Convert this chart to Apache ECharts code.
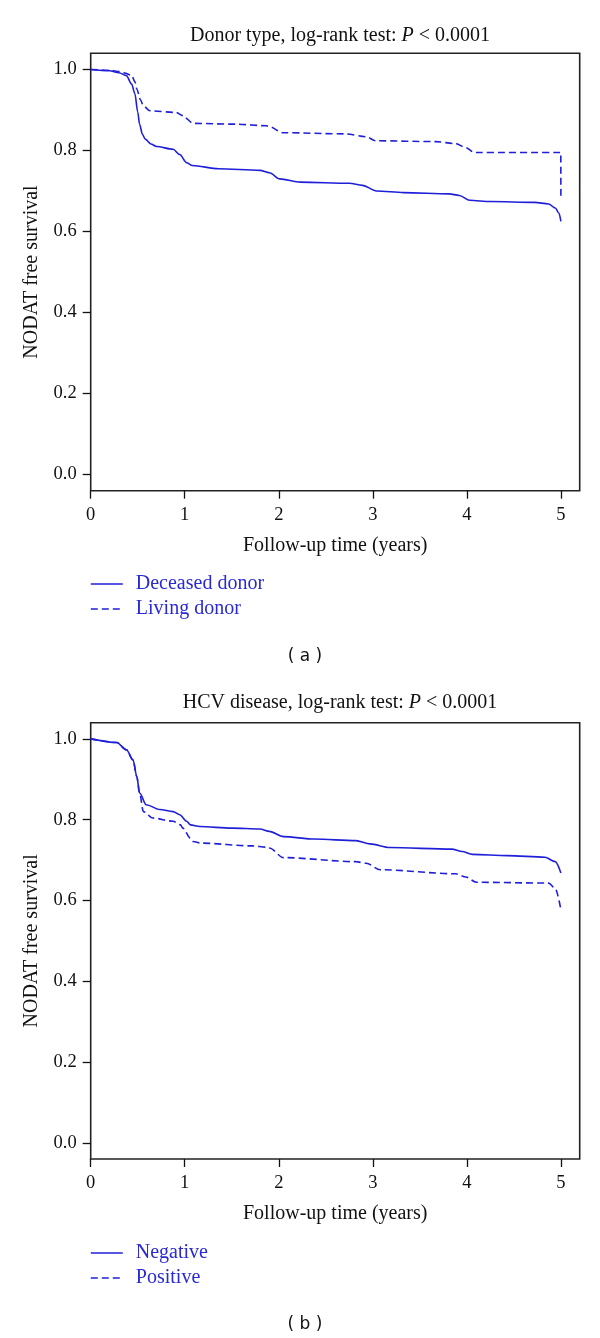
<!DOCTYPE html>
<html>
<head>
<meta charset="utf-8">
<script src="https://cdn.jsdelivr.net/npm/echarts@6/dist/echarts.min.js"></script>
<style>html,body{margin:0;padding:0;background:#fff}#c{width:600px;height:1338px}</style>
</head>
<body>
<div id="c"></div>
<script>
// ---- data (time in years, NODAT free survival) ----
var deceasedDonor = [[0,1.0],[0.2,0.997],[0.3,0.992],[0.38,0.985],[0.435,0.964],[0.47,0.94],[0.5,0.895],[0.52,0.865],[0.55,0.84],[0.58,0.828],[0.64,0.816],[0.70,0.810],[0.876,0.803],[0.947,0.79],[1.02,0.77],[1.08,0.763],[1.36,0.755],[1.80,0.751],[1.90,0.745],[2.01,0.730],[2.23,0.722],[2.75,0.719],[2.89,0.714],[3.04,0.700],[3.33,0.696],[3.81,0.693],[3.92,0.689],[4.03,0.677],[4.25,0.674],[4.72,0.672],[4.87,0.668],[4.94,0.658],[4.98,0.645],[5.0,0.625]];
var livingDonor = [[0,1.0],[0.2,0.998],[0.31,0.995],[0.435,0.986],[0.47,0.97],[0.49,0.952],[0.53,0.925],[0.56,0.910],[0.63,0.898],[0.91,0.894],[0.98,0.886],[1.0,0.881],[1.09,0.867],[1.55,0.865],[1.87,0.861],[1.90,0.859],[2.04,0.844],[2.71,0.841],[2.93,0.834],[3.03,0.824],[3.67,0.822],[3.88,0.817],[3.99,0.807],[4.08,0.795],[4.999,0.795],[5.0,0.684]];
var hcvNegative = [[0,1.0],[0.276,0.991],[0.38,0.973],[0.45,0.948],[0.49,0.907],[0.52,0.866],[0.59,0.837],[0.735,0.825],[0.876,0.820],[0.947,0.812],[1.02,0.796],[1.06,0.787],[1.16,0.783],[1.5,0.779],[1.80,0.777],[1.90,0.771],[2.05,0.758],[2.38,0.752],[2.82,0.748],[2.97,0.740],[3.18,0.731],[3.84,0.727],[3.95,0.721],[4.06,0.714],[4.43,0.711],[4.83,0.707],[4.94,0.696],[5.0,0.668]];
var hcvPositive = [[0,1.0],[0.276,0.991],[0.38,0.973],[0.45,0.948],[0.49,0.907],[0.52,0.866],[0.56,0.820],[0.66,0.804],[0.876,0.796],[0.955,0.787],[0.98,0.779],[1.06,0.754],[1.09,0.746],[1.17,0.742],[1.72,0.735],[1.87,0.732],[1.90,0.730],[2.05,0.706],[2.82,0.696],[2.93,0.692],[3.08,0.676],[3.88,0.666],[3.99,0.658],[4.10,0.645],[4.87,0.643],[4.94,0.630],[5.0,0.577]];
var xTicks = [0,1,2,3,4,5];
var yTicks = [0,0.2,0.4,0.6,0.8,1.0];
var panelTitles = ['Donor type, log-rank test: ', 'HCV disease, log-rank test: '];
var pText = ' < 0.0001';
var panelLabels = ['( a )', '( b )'];
var legendA = ['Deceased donor', 'Living donor'];
var legendB = ['Negative', 'Positive'];
var xName = 'Follow-up time (years)';
var yName = 'NODAT free survival';

// ---- styles ----
var BLUE = '#1f1fd9';
var SERIF = 'Liberation Serif';
var chart = echarts.init(document.getElementById('c'), null, {renderer: 'canvas'});

function xAxisCfg(gi) {
  return {
    type: 'value', gridIndex: gi, min: 0, max: 5.2,
    axisLine: {show: false, onZero: false},
    splitLine: {show: false},
    axisTick: {show: true, inside: false, length: 8, customValues: xTicks, lineStyle: {color: '#111', width: 1.3}},
    axisLabel: {customValues: xTicks, margin: 15, fontFamily: SERIF, fontSize: 18.5, color: '#111',
      formatter: function (v) { return String(Math.round(v)); }},
    name: xName, nameLocation: 'middle', nameGap: 45,
    nameTextStyle: {fontFamily: SERIF, fontSize: 20, color: '#111'}
  };
}
function yAxisCfg(gi) {
  return {
    type: 'value', gridIndex: gi, min: -0.04, max: 1.04,
    axisLine: {show: false, onZero: false},
    splitLine: {show: false},
    axisTick: {show: true, inside: false, length: 8, customValues: yTicks, lineStyle: {color: '#111', width: 1.3}},
    axisLabel: {customValues: yTicks, margin: 14, fontFamily: SERIF, fontSize: 18.5, color: '#111',
      formatter: function (v) { return v.toFixed(1); }},
    name: yName, nameLocation: 'middle', nameGap: 49, nameRotate: 90,
    nameTextStyle: {fontFamily: SERIF, fontSize: 20, color: '#111'}
  };
}
function lineSeries(name, data, gi, dashed) {
  return {
    type: 'line', name: name, data: data, xAxisIndex: gi, yAxisIndex: gi,
    symbol: 'none', showSymbol: false, smooth: 0.3, smoothMonotone: 'x', silent: true,
    lineStyle: {color: BLUE, width: 1.6, type: dashed ? [7, 4] : 'solid'},
    itemStyle: {color: BLUE}
  };
}
function titleCfg(i, top) {
  return {
    text: '{a|' + panelTitles[i] + '}{i|P}{a|' + pText + '}',
    left: 335, top: top, textAlign: 'center',
    textStyle: {fontWeight: 'normal', rich: {
      a: {fontFamily: SERIF, fontSize: 20, fontWeight: 'normal', color: '#111'},
      i: {fontFamily: SERIF, fontSize: 20, fontWeight: 'normal', fontStyle: 'italic', color: '#111'}
    }}
  };
}
function legendCfg(names, top) {
  return {
    data: names, orient: 'vertical', left: 85, top: top,
    itemWidth: 32, itemHeight: 20, itemGap: 5,
    selectedMode: false,
    itemStyle: {opacity: 0},
    lineStyle: {width: 1.6},
    textStyle: {fontFamily: SERIF, fontSize: 20, lineHeight: 20, color: '#2a2ad4', padding: [0, 0, 0, 8]}
  };
}

var option = {
  animation: false,
  backgroundColor: '#fff',
  title: [
    titleCfg(0, 21),
    titleCfg(1, 688),
    {text: panelLabels[0], left: 300, top: 643, textAlign: 'center', textStyle: {fontFamily: 'DejaVu Sans', fontSize: 17, fontWeight: 'normal', color: '#111'}},
    {text: panelLabels[1], left: 300, top: 1311, textAlign: 'center', textStyle: {fontFamily: 'DejaVu Sans', fontSize: 17, fontWeight: 'normal', color: '#111'}}
  ],
  legend: [legendCfg(legendA, 569), legendCfg(legendB, 1238)],
  grid: [
    {left: 90.7, top: 53.3, width: 489, height: 437.4, show: true, borderColor: '#222', borderWidth: 1.6, backgroundColor: 'transparent', containLabel: false},
    {left: 90.7, top: 722.7, width: 489, height: 436.3, show: true, borderColor: '#222', borderWidth: 1.6, backgroundColor: 'transparent', containLabel: false}
  ],
  xAxis: [xAxisCfg(0), xAxisCfg(1)],
  yAxis: [yAxisCfg(0), yAxisCfg(1)],
  series: [
    lineSeries(legendA[0], deceasedDonor, 0, false),
    lineSeries(legendA[1], livingDonor, 0, true),
    lineSeries(legendB[0], hcvNegative, 1, false),
    lineSeries(legendB[1], hcvPositive, 1, true)
  ]
};
chart.setOption(option);
</script>
</body>
</html>
